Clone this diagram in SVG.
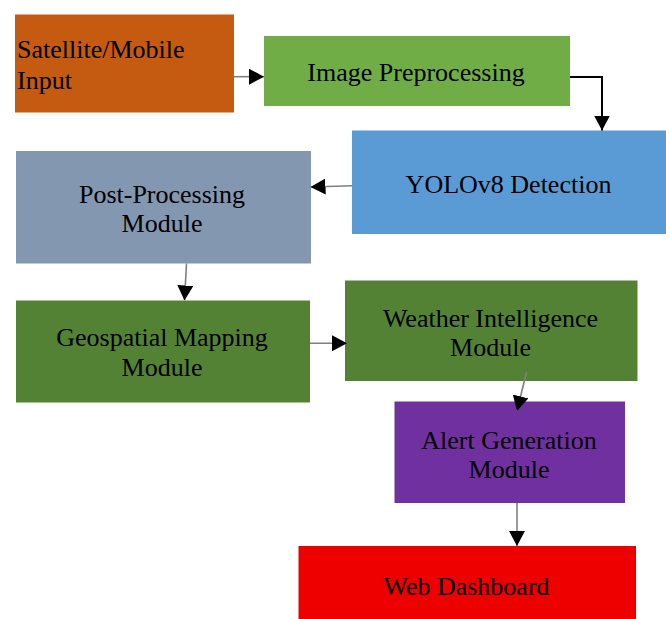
<svg xmlns="http://www.w3.org/2000/svg" width="666" height="619" viewBox="0 0 666 619">
<defs>
<style>
text{font-family:"Liberation Serif","Times New Roman",serif;font-size:26px;fill:#000}
.c{text-anchor:middle}
.conn{fill:none;stroke:#808080;stroke-width:1.6}
.conn.dark{stroke:#000;stroke-width:2}
</style>
<marker id="ah" markerUnits="userSpaceOnUse" markerWidth="15" markerHeight="16" refX="15" refY="8" orient="auto" viewBox="0 0 15 16">
<path d="M0,0 L15,8 L0,16 Z" fill="#000"/>
</marker>
</defs>
<rect width="666" height="619" fill="#fff"/>
<g id="n-input">
<rect x="15" y="14.5" width="219" height="98" fill="#C55A11"/>
<text x="17" y="57.5">Satellite/Mobile</text>
<text x="17" y="88.5">Input</text>
</g>
<g id="n-preproc">
<rect x="264" y="36" width="306" height="70" fill="#70AD47"/>
<text class="c" x="416" y="81">Image Preprocessing</text>
</g>
<g id="n-yolo">
<rect x="352" y="130.5" width="314" height="103.5" fill="#5B9BD5"/>
<text class="c" x="508.5" y="192.5">YOLOv8 Detection</text>
</g>
<g id="n-post">
<rect x="16" y="151" width="295" height="112.5" fill="#8497B0"/>
<text class="c" x="162" y="202.5">Post-Processing</text>
<text class="c" x="162" y="232">Module</text>
</g>
<g id="n-geo">
<rect x="16" y="300.5" width="294" height="102" fill="#548235"/>
<text class="c" x="162" y="346">Geospatial Mapping</text>
<text class="c" x="162" y="376">Module</text>
</g>
<g id="n-weather">
<rect x="345" y="280.5" width="292.5" height="100.5" fill="#548235"/>
<text class="c" x="490.5" y="326.5">Weather Intelligence</text>
<text class="c" x="490.5" y="356">Module</text>
</g>
<g id="n-alert">
<rect x="394.5" y="401.5" width="230.5" height="101.5" fill="#7030A0"/>
<text class="c" x="509" y="449">Alert Generation</text>
<text class="c" x="509" y="478">Module</text>
</g>
<g id="n-web">
<rect x="298.5" y="546" width="337.5" height="73" fill="#EE0000"/>
<text class="c" x="466.5" y="595">Web Dashboard</text>
</g>
<g id="connectors">
<path class="conn" d="M234,76.7 L264,76.7" marker-end="url(#ah)"/>
<path class="conn dark" d="M570,77 L602,77 L602,130.5" marker-end="url(#ah)"/>
<path class="conn" d="M352,185.7 L310.5,187" marker-end="url(#ah)"/>
<path class="conn" d="M186.5,263.5 L184.5,300.5" marker-end="url(#ah)"/>
<path class="conn" d="M310,343.3 L347,343.3" marker-end="url(#ah)"/>
<path class="conn" d="M526.5,372 L517,411" marker-end="url(#ah)"/>
<path class="conn" d="M517,503 L517,546" marker-end="url(#ah)"/>
</g>
</svg>
